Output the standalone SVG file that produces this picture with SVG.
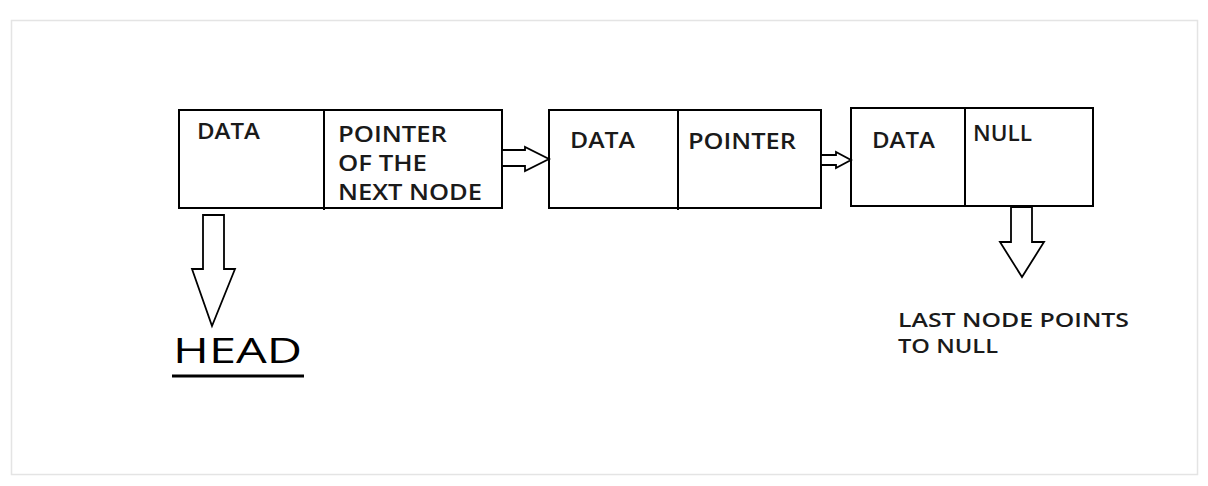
<svg xmlns="http://www.w3.org/2000/svg" width="1208" height="486" viewBox="0 0 1208 486">
  <style>
    .frame { fill: #ffffff; stroke: #e4e4e4; stroke-width: 1.5; }
    .box { fill: #ffffff; stroke: #000000; stroke-width: 2; }
    .div { stroke: #000000; stroke-width: 2; }
    .arr { fill: #ffffff; stroke: #000000; stroke-width: 1.8; stroke-linejoin: miter; }
    .t { font-family: "Open Sans", "DejaVu Sans", sans-serif; font-size: 21px; font-weight: 600; fill: #1a1a1a; }
    .head { font-family: "Open Sans", "DejaVu Sans", sans-serif; font-size: 35px; fill: #000000; }
  </style>
  <rect class="frame" x="11.5" y="20.5" width="1186" height="454"/>

  <g id="node1">
    <rect class="box" x="179" y="110" width="323" height="98"/>
    <line class="div" x1="324" y1="110" x2="324" y2="210"/>
    <text class="t" x="197" y="139" textLength="63" lengthAdjust="spacingAndGlyphs">DATA</text>
    <text class="t" x="338" y="142" textLength="109" lengthAdjust="spacingAndGlyphs">POINTER</text>
    <text class="t" x="338" y="171" textLength="89" lengthAdjust="spacingAndGlyphs">OF THE</text>
    <text class="t" x="338" y="200" textLength="144" lengthAdjust="spacingAndGlyphs">NEXT NODE</text>
  </g>

  <g id="node2">
    <rect class="box" x="549" y="110" width="272" height="98"/>
    <line class="div" x1="678" y1="110" x2="678" y2="210"/>
    <text class="t" x="570" y="148" textLength="65" lengthAdjust="spacingAndGlyphs">DATA</text>
    <text class="t" x="688" y="149" textLength="108" lengthAdjust="spacingAndGlyphs">POINTER</text>
  </g>

  <g id="node3">
    <rect class="box" x="851" y="108" width="242" height="98"/>
    <line class="div" x1="965" y1="108" x2="965" y2="206"/>
    <text class="t" x="872" y="148" textLength="63" lengthAdjust="spacingAndGlyphs">DATA</text>
    <text class="t" x="973" y="141" textLength="59" lengthAdjust="spacingAndGlyphs">NULL</text>
  </g>

  <g id="head">
    <text class="head" x="173" y="363" textLength="129" lengthAdjust="spacingAndGlyphs">HEAD</text>
    <line x1="172" y1="376" x2="304" y2="376" stroke="#000" stroke-width="3"/>
  </g>

  <g id="null-label">
    <text class="t" x="898" y="327" style="font-size:20px" textLength="231" lengthAdjust="spacingAndGlyphs">LAST NODE POINTS</text>
    <text class="t" x="898" y="353" style="font-size:20px" textLength="100" lengthAdjust="spacingAndGlyphs">TO NULL</text>
  </g>

  <g id="connectors">
    <polygon class="arr" points="502,150 525,150 525,147 549,159 525,171 525,166 502,166"/>
    <polygon class="arr" points="821,155 836,155 836,152 851,160 836,168 836,165 821,165"/>
    <polygon class="arr" points="203,215 224,215 224,269 235,269 212,326 192,269 203,269"/>
    <polygon class="arr" points="1011,207 1032,207 1032,242 1044,242 1022,277 1000,242 1011,242"/>
  </g>
</svg>
